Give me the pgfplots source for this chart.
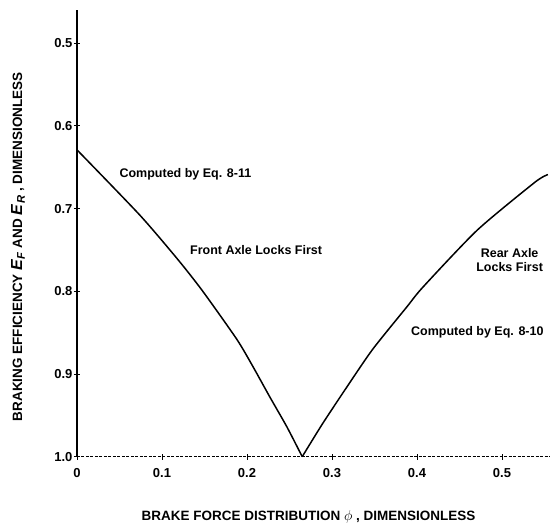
\documentclass[border=0pt]{standalone}
\usepackage{fontspec}
\setmainfont{Liberation Sans}
\usepackage{pgfplots}
\pgfplotsset{compat=1.18}

\begin{document}
\begin{tikzpicture}
\begin{axis}[
    scale only axis,
    width=473pt, height=447pt,
    xmin=0, xmax=0.556,
    ymin=0.46, ymax=1.0,
    y dir=reverse,
    axis x line*=bottom,
    axis y line*=left,
    clip=false,
    xtick={0,0.1,0.2,0.3,0.4,0.5},
    xticklabels={0,0.1,0.2,0.3,0.4,0.5},
    ytick={0.5,0.6,0.7,0.8,0.9,1.0},
    yticklabels={0.5,0.6,0.7,0.8,0.9,1.0},
    tick align=center,
    major tick length=6pt,
    tick style={black, line width=0.8pt},
    ticklabel style={font=\bfseries\fontsize{13}{15}\selectfont},
    xticklabel style={yshift=-5pt},
    yticklabel style={xshift=2pt},
    y axis line style={line width=1.4pt},
    x axis line style={line width=0.8pt, dash pattern=on 3pt off 1.5pt},
    xlabel={BRAKE FORCE DISTRIBUTION $\phi$ , DIMENSIONLESS},
    ylabel={BRAKING EFFICIENCY {\fontsize{16}{18}\selectfont\textit{E}\textsubscript{\textit{F}}} AND {\fontsize{16}{18}\selectfont\textit{E}\textsubscript{\textit{R}}} , DIMENSIONLESS},
    label style={font=\bfseries\fontsize{13.5}{15}\selectfont},
    xlabel style={at={(rel axis cs:0.49,0)}, anchor=center, yshift=-60pt},
    ylabel style={at={(rel axis cs:0,0.47)}, anchor=center, yshift=59pt},
]
% front axle locks first (Eq. 8-11)
\addplot[black, line width=1.5pt, smooth, tension=0.4] coordinates {
    (0,0.629) (0.074,0.708) (0.119,0.762) (0.148,0.800) (0.188,0.858)
    (0.207,0.891) (0.227,0.928) (0.247,0.964) (0.265,1.0)
};
% rear axle locks first (Eq. 8-10)
\addplot[black, line width=1.5pt, smooth, tension=0.4] coordinates {
    (0.265,1.0) (0.289,0.960) (0.318,0.915) (0.348,0.870) (0.388,0.819)
    (0.407,0.795) (0.471,0.726) (0.539,0.668) (0.554,0.659)
};
\begin{scope}[font=\bfseries\fontsize{12.5}{14}\selectfont]
\node[anchor=west] at (axis cs:0.046,0.659) {Computed by Eq. 8-11};
\node[anchor=west] at (axis cs:0.129,0.750) {Front Axle Locks First};
\node[align=center] at (axis cs:0.509,0.762) {Rear Axle\\Locks First};
\node at (axis cs:0.471,0.850) {Computed by Eq. 8-10};
\end{scope}
\path (rel axis cs:-0.1628,-0.1633) rectangle (rel axis cs:1,1.0224);
\end{axis}
\end{tikzpicture}
\end{document}
